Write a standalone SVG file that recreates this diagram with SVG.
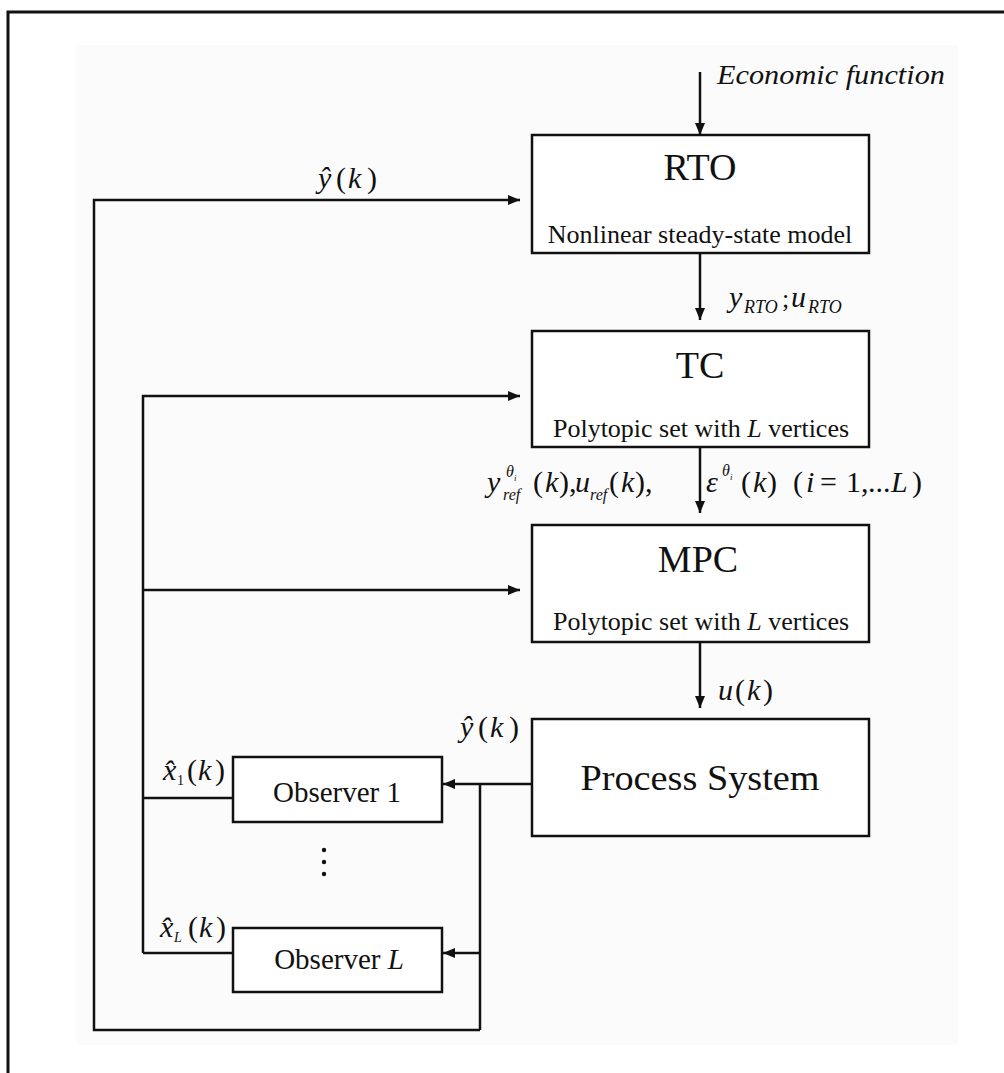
<svg xmlns="http://www.w3.org/2000/svg" width="1004" height="1073" viewBox="0 0 1004 1073">
<style>
.box{fill:#fff;stroke:#111;stroke-width:2.5}
.ln{fill:none;stroke:#111;stroke-width:2.5}
.t{font-family:"Liberation Serif","Times New Roman",serif;fill:#111}
.i{font-style:italic}
.title{font-size:38px;text-anchor:middle}
.sub{font-size:26px;text-anchor:middle}
.m{font-size:30px}
.s{font-size:16px;font-style:italic}
</style>
<defs>
<marker id="ah" markerWidth="12" markerHeight="10" refX="12" refY="5" orient="auto" markerUnits="userSpaceOnUse">
<path d="M0,0 L12,5 L0,10 Z" fill="#111"/>
</marker>
</defs>
<rect x="0" y="0" width="1004" height="1073" fill="#fff"/>
<rect x="77" y="45" width="881" height="1000" fill="#fbfbfb"/>
<path d="M8,1073 V12 H1004" fill="none" stroke="#111" stroke-width="3"/>

<g id="connectors">
<line class="ln" x1="700" y1="72" x2="700" y2="135" marker-end="url(#ah)"/>
<polyline class="ln" points="480,1030 94,1030 94,200 520,200" marker-end="url(#ah)"/>
<line class="ln" x1="700" y1="253" x2="700" y2="320" marker-end="url(#ah)"/>
<polyline class="ln" points="143,953 143,396 520,396" marker-end="url(#ah)"/>
<line class="ln" x1="143" y1="590" x2="520" y2="590" marker-end="url(#ah)"/>
<line class="ln" x1="700" y1="447" x2="700" y2="513" marker-end="url(#ah)"/>
<line class="ln" x1="700" y1="642" x2="700" y2="708" marker-end="url(#ah)"/>
<line class="ln" x1="532" y1="784" x2="443" y2="784" marker-end="url(#ah)"/>
<polyline class="ln" points="480,784 480,1030"/>
<line class="ln" x1="480" y1="953" x2="443" y2="953" marker-end="url(#ah)"/>
<line class="ln" x1="233" y1="798" x2="143" y2="798"/>
<line class="ln" x1="233" y1="953" x2="143" y2="953"/>
</g>

<g id="labels">
<text class="t i" x="717" y="84" font-size="28" textLength="228" lengthAdjust="spacingAndGlyphs">Economic function</text>
<text class="t m" y="188" font-size="32"><tspan x="318" font-style="italic">ŷ</tspan><tspan x="336">(</tspan><tspan x="348" font-style="italic">k</tspan><tspan x="367">)</tspan></text>
<text class="t" y="307"><tspan x="729" class="i" font-size="30">y</tspan><tspan x="744" y="313" font-size="18" font-style="italic">RTO</tspan><tspan x="782" y="307" font-size="26">;</tspan><tspan x="791" y="307" class="i" font-size="30">u</tspan><tspan x="808" y="313" font-size="18" font-style="italic">RTO</tspan></text>
<text class="t" y="492"><tspan x="487" class="i" font-size="30">y</tspan><tspan x="506" y="477" class="s">θ</tspan><tspan x="514" y="481" font-size="9" font-style="italic">i</tspan><tspan x="503" y="500" class="s">ref</tspan><tspan x="533" y="492" font-size="30">(</tspan><tspan x="545" font-size="30" font-style="italic">k</tspan><tspan x="559" font-size="30">),</tspan><tspan x="575" class="i" font-size="30">u</tspan><tspan x="590" y="500" class="s">ref</tspan><tspan x="609" y="492" font-size="30">(</tspan><tspan x="621" font-size="30" font-style="italic">k</tspan><tspan x="635" font-size="30">),</tspan></text>
<text class="t" y="492"><tspan x="706" class="i" font-size="30">ε</tspan><tspan x="722" y="476" class="s">θ</tspan><tspan x="730" y="480" font-size="9" font-style="italic">i</tspan><tspan x="741" y="492" font-size="30">(</tspan><tspan x="753" font-size="30" font-style="italic">k</tspan><tspan x="767" font-size="30">)</tspan></text>
<text class="t m" y="492"><tspan x="793">(</tspan><tspan x="806" font-style="italic">i</tspan><tspan x="820">=</tspan><tspan x="846">1,</tspan><tspan x="868">...</tspan><tspan x="891" font-style="italic">L</tspan><tspan x="912">)</tspan></text>
<text class="t m" y="700"><tspan x="718" font-style="italic">u</tspan><tspan x="735">(</tspan><tspan x="747" font-style="italic">k</tspan><tspan x="763">)</tspan></text>
<text class="t m" y="737" font-size="32"><tspan x="460" font-style="italic">ŷ</tspan><tspan x="478">(</tspan><tspan x="490" font-style="italic">k</tspan><tspan x="509">)</tspan></text>
<text class="t" y="780" font-size="30"><tspan x="163" font-style="italic">x̂</tspan><tspan x="177" y="785" font-size="14">1</tspan><tspan x="187" y="780">(</tspan><tspan x="198" font-style="italic">k</tspan><tspan x="215">)</tspan></text>
<text class="t" y="937" font-size="30"><tspan x="160" font-style="italic">x̂</tspan><tspan x="174" y="942" font-size="14" font-style="italic">L</tspan><tspan x="188" y="937">(</tspan><tspan x="199" font-style="italic">k</tspan><tspan x="216">)</tspan></text>
<circle cx="324" cy="850" r="2.2" fill="#111"/>
<circle cx="324" cy="862" r="2.2" fill="#111"/>
<circle cx="324" cy="874" r="2.2" fill="#111"/>
</g>

<g id="rto">
<rect class="box" x="532" y="135" width="337" height="118"/>
<text class="t title" x="700" y="180">RTO</text>
<text class="t sub" x="700" y="243">Nonlinear steady-state model</text>
</g>
<g id="tc">
<rect class="box" x="532" y="331" width="337" height="116"/>
<text class="t title" x="700" y="378">TC</text>
<text class="t sub" x="701" y="437">Polytopic set with <tspan font-style="italic">L</tspan> vertices</text>
</g>
<g id="mpc">
<rect class="box" x="532" y="525" width="337" height="117"/>
<text class="t title" x="698" y="572">MPC</text>
<text class="t sub" x="701" y="630">Polytopic set with <tspan font-style="italic">L</tspan> vertices</text>
</g>
<g id="process">
<rect class="box" x="532" y="719" width="337" height="117"/>
<text class="t" x="700" y="790" font-size="35" text-anchor="middle" textLength="239" lengthAdjust="spacingAndGlyphs">Process System</text>
</g>
<g id="observer1">
<rect class="box" x="233" y="757" width="209" height="65"/>
<text class="t" x="337" y="802" font-size="29" text-anchor="middle">Observer 1</text>
</g>
<g id="observerL">
<rect class="box" x="233" y="928" width="209" height="64"/>
<text class="t" x="339" y="969" font-size="29" text-anchor="middle">Observer <tspan font-style="italic">L</tspan></text>
</g>
</svg>
